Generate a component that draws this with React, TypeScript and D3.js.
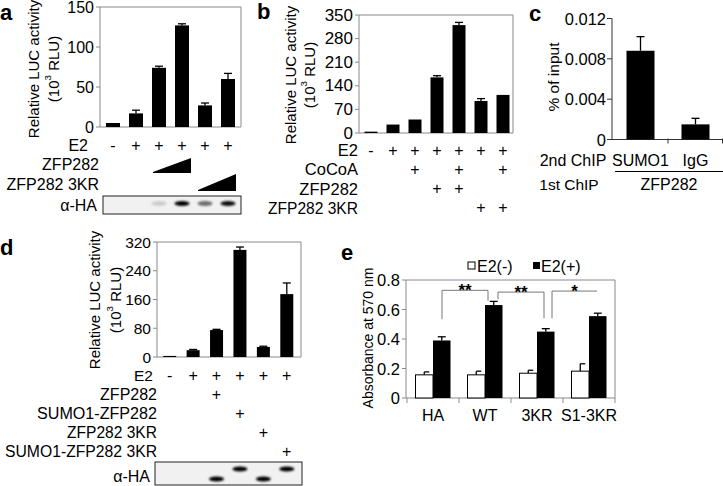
import React from "react";
import * as d3 from "d3";

const FONT = "'Liberation Sans', Arial, Helvetica, sans-serif";
const AXIS = "#8a8a8a";

// ---------- Panel a ----------
const aValues = [5, 17, 74, 127, 27, 60];
const aErrors = [0, 4, 2, 2, 3, 7];
const aE2 = ["-", "+", "+", "+", "+", "+"];
const aBlot = [0, 0, 0.15, 1, 0.55, 0.95];
const aTicks = [0, 50, 100, 150];

// ---------- Panel b ----------
const bValues = [4, 25, 40, 165, 320, 95, 113];
const bErrors = [0, 0, 0, 5, 8, 7, 0];
const bRowLabels = ["E2", "CoCoA", "ZFP282", "ZFP282 3KR"];
const bRows = [
  ["-", "+", "+", "+", "+", "+", "+"],
  ["", "", "+", "", "+", "", "+"],
  ["", "", "", "+", "+", "", ""],
  ["", "", "", "", "", "+", "+"],
];
const bTicks = [0, 70, 140, 210, 280, 350];

// ---------- Panel c ----------
const cCats = ["SUMO1", "IgG"];
const cValues = [0.0088, 0.0015];
const cErrors = [0.0014, 0.0006];
const cTicks = [0, 0.004, 0.008, 0.012];
const cTickLabels = ["0", "0.004", "0.008", "0.012"];

// ---------- Panel d ----------
const dValues = [3, 19, 75, 298, 28, 175];
const dErrors = [0, 2, 2, 8, 2, 31];
const dRowLabels = ["E2", "ZFP282", "SUMO1-ZFP282", "ZFP282 3KR", "SUMO1-ZFP282 3KR"];
const dRows = [
  ["-", "+", "+", "+", "+", "+"],
  ["", "", "+", "", "", ""],
  ["", "", "", "+", "", ""],
  ["", "", "", "", "+", ""],
  ["", "", "", "", "", "+"],
];
const dBandRow = [-1, -1, 1, 0, 1, 0]; // 0 = upper (SUMO fused), 1 = lower
const dTicks = [0, 80, 160, 240, 320];

// ---------- Panel e ----------
const eCats = ["HA", "WT", "3KR", "S1-3KR"];
const eMinus = [0.157, 0.157, 0.168, 0.182];
const eMinusErr = [0.02, 0.025, 0.02, 0.05];
const ePlus = [0.39, 0.63, 0.45, 0.555];
const ePlusErr = [0.025, 0.025, 0.02, 0.02];
const eTicks = [0, 0.2, 0.4, 0.6, 0.8];
const eSig = [
  { from: 0, to: 1, label: "**" },
  { from: 1, to: 2, label: "**" },
  { from: 2, to: 3, label: "*" },
];

type BarPanelProps = {
  axisX: number;
  frameRight: number;
  yTop: number;
  yZero: number;
  max: number;
  ticks: number[];
  values: number[];
  errors: number[];
  bandStart: number;
  bandEnd: number;
  barW: number;
  tickSize: number;
};

function useBar(p: BarPanelProps) {
  const y = d3.scaleLinear().domain([0, p.max]).range([p.yZero, p.yTop]);
  const x = d3
    .scaleBand<number>()
    .domain(p.values.map((_, i) => i))
    .range([p.bandStart, p.bandEnd]);
  const cx = (i: number) => (x(i) as number) + x.bandwidth() / 2;
  return { x, y, cx };
}

function BarPanel(p: BarPanelProps) {
  const { y, cx } = useBar(p);
  return (
    <g>
      <line x1={p.axisX} x2={p.frameRight} y1={p.yTop} y2={p.yTop} stroke={AXIS} />
      <line x1={p.frameRight} x2={p.frameRight} y1={p.yTop} y2={p.yZero} stroke={AXIS} />
      <line x1={p.axisX} x2={p.axisX} y1={p.yTop} y2={p.yZero} stroke={AXIS} />
      <line x1={p.axisX} x2={p.frameRight} y1={p.yZero} y2={p.yZero} stroke={AXIS} />
      {p.ticks.map((t) => (
        <g key={t}>
          <line x1={p.axisX - 4} x2={p.axisX} y1={y(t)} y2={y(t)} stroke={AXIS} />
          <text
            x={p.axisX - 6}
            y={y(t)}
            textAnchor="end"
            dominantBaseline="central"
            fontSize={p.tickSize}
            fontFamily={FONT}
            fill="#000"
          >
            {t}
          </text>
        </g>
      ))}
      {p.values.map((v, i) => (
        <rect
          key={i}
          x={cx(i) - p.barW / 2}
          width={p.barW}
          y={y(v)}
          height={y(0) - y(v)}
          fill="#000"
        />
      ))}
      {p.values.map((v, i) =>
        p.errors[i] > 0 ? (
          <g key={"e" + i} stroke="#000" strokeWidth={1.3}>
            <line x1={cx(i)} x2={cx(i)} y1={y(v)} y2={y(v + p.errors[i])} />
            <line x1={cx(i) - 4} x2={cx(i) + 4} y1={y(v + p.errors[i])} y2={y(v + p.errors[i])} />
          </g>
        ) : null
      )}
    </g>
  );
}

function YTitle({ x1, x2, cy, fontSize, line1 }: { x1: number; x2: number; cy: number; fontSize: number; line1: string }) {
  return (
    <g fontFamily={FONT} fontSize={fontSize} fill="#000">
      <text transform={`translate(${x1},${cy}) rotate(-90)`} textAnchor="middle" dominantBaseline="central">
        {line1}
      </text>
      <text transform={`translate(${x2},${cy}) rotate(-90)`} textAnchor="middle" dominantBaseline="central">
        (10<tspan fontSize={fontSize * 0.65} dy={-6}>3</tspan>
        <tspan dy={6}> RLU)</tspan>
      </text>
    </g>
  );
}

function Label({ x, y, text, anchor = "end", size = 15.5, len }: { x: number; y: number; text: string; anchor?: string; size?: number; len?: number }) {
  return (
    <text
      x={x}
      y={y}
      textAnchor={anchor as any}
      dominantBaseline="central"
      fontSize={size}
      fontFamily={FONT}
      fill="#000"
      {...(len ? { textLength: len, lengthAdjust: "spacingAndGlyphs" } : {})}
    >
      {text}
    </text>
  );
}

export default function App() {
  const aP: BarPanelProps = {
    axisX: 100, frameRight: 241, yTop: 7, yZero: 127, max: 150, ticks: aTicks,
    values: aValues, errors: aErrors, bandStart: 101.5, bandEnd: 239.5, barW: 14, tickSize: 16,
  };
  const aS = useBar(aP);
  const bP: BarPanelProps = {
    axisX: 359, frameRight: 513, yTop: 15, yZero: 133, max: 350, ticks: bTicks,
    values: bValues, errors: bErrors, bandStart: 360, bandEnd: 514, barW: 13, tickSize: 17,
  };
  const bS = useBar(bP);
  const dP: BarPanelProps = {
    axisX: 157, frameRight: 301, yTop: 242, yZero: 357, max: 320, ticks: dTicks,
    values: dValues, errors: dErrors, bandStart: 158, bandEnd: 298.5, barW: 13, tickSize: 15.5,
  };
  const dS = useBar(dP);

  const cY = d3.scaleLinear().domain([0, 0.012]).range([139.5, 18.5]);
  const cX = d3.scaleBand().domain(cCats).range([613, 723]);
  const cW = 28;

  const eY = d3.scaleLinear().domain([0, 0.8]).range([398, 280]);
  const eX = d3.scaleBand().domain(eCats).range([407, 615]);
  const eBW = 17.5;
  const eCenter = (i: number) => (eX(eCats[i]) as number) + eX.bandwidth() / 2;
  const minusX = (i: number) => eCenter(i) - eBW;
  const plusX = (i: number) => eCenter(i);

  const blotBand = (cx: number, cy: number, k: number, intensity: number) => (
    <ellipse
      key={k}
      cx={cx}
      cy={cy}
      rx={7.5}
      ry={2.4}
      fill="#000"
      opacity={Math.min(1, intensity)}
      filter="url(#blur)"
    />
  );

  const brackets = [
    { x1: plusX(0) + 9, x2: plusX(1) + 3, yTop: eY(0.73), y1: eY(0.535), y2: eY(0.66) },
    { x1: plusX(1) + 13, x2: plusX(2) + 7, yTop: eY(0.718), y1: eY(0.67), y2: eY(0.54) },
    { x1: plusX(2) + 15, x2: plusX(3) + 8, yTop: eY(0.725), y1: eY(0.54), y2: null as number | null },
  ];

  const dRowY = (r: number) => (r === 0 ? 375 : 394 + (r - 1) * 19);

  return (
    <svg
      width={723}
      height={486}
      style={{ position: "fixed", left: 0, top: 0, background: "#fff" }}
      fontFamily={FONT}
    >
      <defs>
        <filter id="blur" x="-50%" y="-100%" width="200%" height="300%">
          <feGaussianBlur stdDeviation="0.9" />
        </filter>
      </defs>
      <rect width={723} height={486} fill="#fff" />

      {/* ================= Panel a ================= */}
      <text x={0} y={20} fontSize={22} fontWeight="bold" fill="#000">a</text>
      <YTitle x1={33} x2={53} cy={69} fontSize={15} line1="Relative LUC activity" />
      <BarPanel {...aP} />
      <Label x={88} y={145} text="E2" size={16} />
      {aE2.map((s, i) => (
        <Label key={i} x={aS.cx(i)} y={145} text={s} anchor="middle" size={16} />
      ))}
      <Label x={99} y={164} text="ZFP282" size={16} />
      <Label x={99} y={184} text="ZFP282 3KR" size={16} />
      <polygon
        points={`${aS.cx(2) - 6},172 ${aS.cx(3) + 9},158 ${aS.cx(3) + 9},173 ${aS.cx(2) - 6},173`}
        fill="#000"
      />
      <polygon
        points={`${aS.cx(4) - 7},190 ${aS.cx(5) + 8},174 ${aS.cx(5) + 8},191 ${aS.cx(4) - 7},191`}
        fill="#000"
      />
      <Label x={97} y={205} text="α-HA" size={16} />
      <rect x={103} y={196} width={138} height={18} fill="#f1f1f1" stroke="#222" strokeWidth={1} />
      {aBlot.map((v, i) => (v > 0 ? blotBand(aS.cx(i), 203.5, i, v) : null))}

      {/* ================= Panel b ================= */}
      <text x={257} y={19} fontSize={22} fontWeight="bold" fill="#000">b</text>
      <YTitle x1={290} x2={309} cy={75} fontSize={15} line1="Relative LUC activity" />
      <BarPanel {...bP} />
      {bRowLabels.map((l, r) => (
        <Label key={l} x={358} y={150 + r * 19.3} text={l} size={16.5} len={l === "ZFP282 3KR" ? 90 : undefined} />
      ))}
      {bRows.map((row, r) =>
        row.map((s, i) => (s ? <Label key={r + "-" + i} x={bS.cx(i)} y={150 + r * 19.3} text={s} anchor="middle" size={16} /> : null))
      )}

      {/* ================= Panel c ================= */}
      <text x={529} y={21} fontSize={22} fontWeight="bold" fill="#000">c</text>
      <text
        transform="translate(553,77) rotate(-90)"
        textAnchor="middle"
        dominantBaseline="central"
        fontSize={15.5}
        fill="#000"
      >
        % of input
      </text>
      <line x1={612} x2={612} y1={cY(0.012)} y2={cY(0)} stroke="#333" />
      <line x1={612} x2={723} y1={cY(0)} y2={cY(0)} stroke="#333" />
      {cTicks.map((t, i) => (
        <g key={t}>
          <line x1={607} x2={612} y1={cY(t)} y2={cY(t)} stroke="#333" />
          <Label x={606} y={cY(t)} text={cTickLabels[i]} size={16.5} />
        </g>
      ))}
      {[668, 722.5].map((tx) => (
        <line key={tx} x1={tx} x2={tx} y1={cY(0) - 1} y2={cY(0) + 4} stroke="#333" />
      ))}
      {cCats.map((c, i) => {
        const cx = (cX(c) as number) + cX.bandwidth() / 2;
        return (
          <g key={c}>
            <rect x={cx - cW / 2} width={cW} y={cY(cValues[i])} height={cY(0) - cY(cValues[i])} fill="#000" />
            <line x1={cx} x2={cx} y1={cY(cValues[i])} y2={cY(cValues[i] + cErrors[i])} stroke="#000" strokeWidth={1.3} />
            <line x1={cx - 4} x2={cx + 4} y1={cY(cValues[i] + cErrors[i])} y2={cY(cValues[i] + cErrors[i])} stroke="#000" strokeWidth={1.3} />
            <Label x={cx} y={160} text={c} anchor="middle" size={16} />
          </g>
        );
      })}
      <Label x={573} y={160} text="2nd ChIP" anchor="middle" size={16} />
      <line x1={615} x2={723} y1={171.5} y2={171.5} stroke="#000" />
      <Label x={569} y={184} text="1st ChIP" anchor="middle" size={15.5} />
      <Label x={669} y={184} text="ZFP282" anchor="middle" size={16} />

      {/* ================= Panel d ================= */}
      <text x={0} y={255} fontSize={22} fontWeight="bold" fill="#000">d</text>
      <YTitle x1={94} x2={115} cy={300} fontSize={15} line1="Relative LUC activity" />
      <BarPanel {...dP} />
      {dRowLabels.map((l, r) => (
        <Label
          key={l}
          x={r === 0 ? 153 : 157}
          y={dRowY(r)}
          text={l}
          size={r === 0 ? 15.5 : 16}
          len={l === "SUMO1-ZFP282 3KR" ? 152 : l === "SUMO1-ZFP282" ? 120 : l === "ZFP282 3KR" ? 90 : undefined}
        />
      ))}
      {dRows.map((row, r) =>
        row.map((s, i) =>
          s ? <Label key={r + "-" + i} x={dS.cx(i)} y={dRowY(r)} text={s} anchor="middle" size={16} /> : null
        )
      )}
      <Label x={150} y={476} text="α-HA" size={16} />
      <rect x={155} y={462} width={147} height={23} fill="#f1f1f1" stroke="#222" strokeWidth={1} />
      {dBandRow.map((r, i) => (r >= 0 ? blotBand(dS.cx(i), r === 0 ? 469 : 479, 100 + i, 1) : null))}

      {/* ================= Panel e ================= */}
      <text x={341} y={260} fontSize={22} fontWeight="bold" fill="#000">e</text>
      <text
        transform="translate(368,338) rotate(-90)"
        textAnchor="middle"
        dominantBaseline="central"
        fontSize={14}
        fill="#000"
      >
        Absorbance at 570 nm
      </text>
      <rect x={468} y={262} width={7} height={7} fill="#fff" stroke="#000" strokeWidth={1} />
      <Label x={477} y={266} text="E2(-)" anchor="start" size={16} />
      <rect x={533} y={262} width={7} height={7} fill="#000" />
      <Label x={541} y={266} text="E2(+)" anchor="start" size={16} />
      <line x1={406} x2={615} y1={eY(0.8)} y2={eY(0.8)} stroke={AXIS} />
      <line x1={615} x2={615} y1={eY(0.8)} y2={eY(0)} stroke={AXIS} />
      <line x1={406} x2={406} y1={eY(0.8)} y2={eY(0)} stroke={AXIS} />
      <line x1={406} x2={615} y1={eY(0)} y2={eY(0)} stroke={AXIS} />
      {eTicks.map((t) => (
        <g key={t}>
          <line x1={402} x2={406} y1={eY(t)} y2={eY(t)} stroke={AXIS} />
          <Label x={400} y={eY(t)} text={t === 0 ? "0" : t.toFixed(1)} size={16.5} />
        </g>
      ))}
      {[407, 459, 511, 563, 615].map((tx) => (
        <line key={tx} x1={tx} x2={tx} y1={eY(0)} y2={eY(0) + 5} stroke={AXIS} />
      ))}
      {eCats.map((c, i) => (
        <g key={c}>
          <rect x={minusX(i)} width={eBW} y={eY(eMinus[i])} height={eY(0) - eY(eMinus[i])} fill="#fff" stroke="#000" strokeWidth={1} />
          <rect x={plusX(i)} width={eBW} y={eY(ePlus[i])} height={eY(0) - eY(ePlus[i])} fill="#000" />
          <g stroke="#000" strokeWidth={1.3}>
            <line x1={minusX(i) + eBW / 2} x2={minusX(i) + eBW / 2} y1={eY(eMinus[i])} y2={eY(eMinus[i] + eMinusErr[i])} />
            <line x1={minusX(i) + eBW / 2} x2={minusX(i) + eBW / 2 + 5} y1={eY(eMinus[i] + eMinusErr[i])} y2={eY(eMinus[i] + eMinusErr[i])} />
            <line x1={plusX(i) + eBW / 2} x2={plusX(i) + eBW / 2} y1={eY(ePlus[i])} y2={eY(ePlus[i] + ePlusErr[i])} />
            <line x1={plusX(i) + eBW / 2 - 4} x2={plusX(i) + eBW / 2 + 4} y1={eY(ePlus[i] + ePlusErr[i])} y2={eY(ePlus[i] + ePlusErr[i])} />
          </g>
          <Label x={eCenter(i)} y={415} text={c} anchor="middle" size={16} />
        </g>
      ))}
      {eSig.map((s, k) => {
        const b = brackets[k];
        return (
          <g key={k}>
            <path
              d={`M${b.x1},${b.y1} V${b.yTop} H${b.x2}` + (b.y2 !== null ? ` V${b.y2}` : "")}
              fill="none"
              stroke="#777"
              strokeWidth={1}
            />
            <text x={(b.x1 + b.x2) / 2} y={b.yTop + 6} textAnchor="middle" fontSize={17} fontWeight="bold" fill="#000">
              {s.label}
            </text>
          </g>
        );
      })}
    </svg>
  );
}
